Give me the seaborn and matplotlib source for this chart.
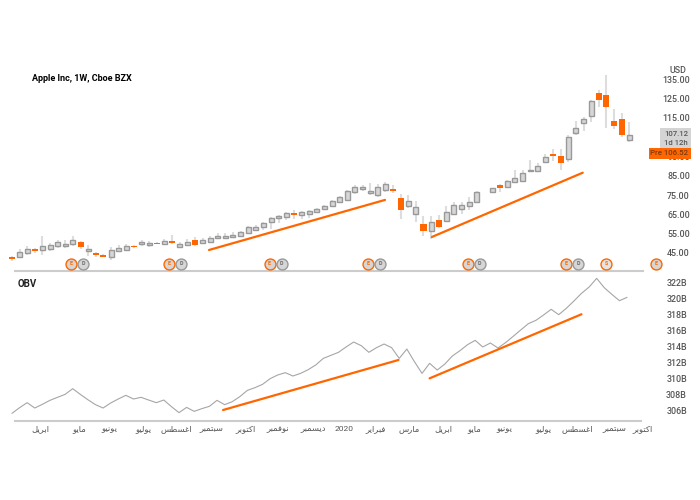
import pandas as pd
import numpy as np
import matplotlib
matplotlib.use("Agg")
import matplotlib.pyplot as plt
from matplotlib.patches import Rectangle
import seaborn as sns

# weekly candles (one week has no candle)
price_open = [42.93, 43.1, 45.2, 46.9, 46.7, 47.25, 48.8, 48.6, 49.85, 50.7, 46.2, 44.8, 44.0, 43.1, 46.2, 46.7, 48.6, 49.85, 49.3, 50.2, 49.85, 51.2, 48.3, 49.3, 51.7, 50.35, 50.9, 52.95, 52.8, 53.45, 53.8, 55.4, 57.1, 58.5, 61.1, 63.3, 63.65, 65.7, 64.85, 65.4, 66.4, 68.0, 69.5, 71.6, 72.5, 76.6, 78.3, 76.1, 75.05, 77.8, 78.15, 73.5, 69.35, 65.4, 60.0, 56.4, 62.1, 61.6, 65.2, 67.6, 69.2, 71.6, np.nan, 76.4, 80.05, 79.0, 82.0, 82.1, 87.3, 87.3, 92.0, 96.3, 95.25, 93.5, 107.35, 112.2, 115.8, 127.9, 126.9, 113.4, 114.4, 103.7]
price_high = [43.45, 46.9, 48.6, 47.4, 53.8, 50.0, 51.7, 51.7, 53.8, 51.2, 49.1, 45.7, 44.5, 48.1, 49.1, 49.7, 49.1, 51.7, 51.2, 50.7, 52.25, 54.3, 50.7, 52.25, 53.3, 52.8, 53.8, 55.4, 55.4, 55.9, 56.4, 59.0, 59.5, 61.1, 63.65, 64.7, 66.2, 67.3, 66.75, 67.3, 68.3, 69.9, 72.5, 74.5, 77.6, 80.2, 80.2, 81.3, 80.75, 81.8, 80.2, 75.6, 75.05, 71.95, 64.2, 64.2, 64.7, 69.35, 71.4, 71.25, 74.0, 77.1, np.nan, 78.85, 80.6, 82.8, 88.0, 88.0, 93.2, 91.6, 96.3, 98.9, 98.9, 106.0, 113.4, 115.5, 124.3, 129.45, 137.2, 119.6, 117.5, 112.9]
price_low = [40.86, 42.6, 44.0, 45.2, 44.0, 46.0, 47.6, 47.6, 48.6, 47.1, 43.45, 42.9, 42.75, 41.4, 46.0, 46.55, 47.75, 48.6, 48.1, 49.5, 49.3, 49.7, 47.75, 48.6, 48.6, 49.7, 50.35, 52.25, 52.25, 52.8, 53.3, 54.85, 56.9, 56.9, 57.4, 60.5, 62.1, 62.6, 62.6, 63.1, 65.7, 67.3, 68.8, 70.9, 71.95, 75.6, 77.1, 75.05, 74.0, 76.6, 76.1, 62.6, 68.3, 61.05, 53.8, 52.25, 58.0, 61.05, 64.7, 65.4, 67.45, 70.7, np.nan, 76.1, 76.8, 78.7, 81.6, 81.8, 87.1, 87.0, 91.6, 92.8, 88.0, 92.3, 106.3, 108.4, 113.0, 120.8, 109.9, 109.4, 105.3, 102.7]
price_close = [42.06, 45.35, 46.9, 46.0, 48.45, 49.0, 50.5, 49.5, 51.6, 48.1, 46.9, 44.0, 42.9, 46.4, 47.4, 48.45, 48.1, 50.5, 50.0, 49.85, 51.2, 50.2, 49.7, 50.7, 49.15, 51.7, 52.6, 53.8, 53.8, 54.3, 55.9, 58.5, 58.5, 60.5, 63.1, 64.2, 65.7, 64.85, 66.2, 66.75, 67.8, 69.35, 71.95, 74.0, 77.1, 79.2, 79.2, 77.1, 79.2, 80.75, 77.1, 67.3, 71.95, 68.8, 56.4, 61.05, 58.5, 66.2, 69.85, 69.9, 71.25, 76.4, np.nan, 78.5, 78.85, 82.1, 83.7, 86.3, 87.8, 89.9, 94.9, 95.4, 91.6, 104.9, 109.6, 114.4, 123.6, 124.3, 120.8, 111.0, 106.3, 106.0]

obv_values = [305.58, 306.29, 306.92, 306.25, 306.71, 307.21, 307.59, 307.96, 308.67, 307.96, 307.29, 306.67, 306.25, 306.88, 307.38, 307.84, 307.38, 307.59, 307.25, 306.92, 307.25, 306.42, 305.67, 306.33, 305.83, 306.17, 306.46, 307.21, 306.67, 307.04, 307.67, 308.46, 308.8, 309.22, 309.93, 310.39, 310.68, 310.26, 310.59, 311.05, 311.64, 312.47, 312.85, 313.23, 313.9, 314.52, 314.06, 313.23, 313.81, 314.27, 313.81, 312.47, 313.64, 312.06, 310.59, 311.85, 311.01, 311.76, 312.77, 313.44, 314.19, 314.73, 313.9, 314.4, 313.77, 314.44, 315.23, 316.03, 316.82, 317.24, 317.9, 318.62, 317.95, 318.74, 319.66, 320.62, 321.41, 322.5, 321.33, 320.49, 319.7, 320.12]

# hand drawn trend lines (week, value)
price_trend_weeks = [[25.85, 48.95], [55.1, 74.9]]
price_trend_values = [[46.55, 72.5], [53.3, 86.6]]
obv_trend_weeks = [[27.8, 50.9], [55.0, 75.0]]
obv_trend_values = [[306.0, 312.27], [309.97, 318.0]]

# earnings / dividend / split badges
event_weeks = [7.74, 9.32, 20.6, 22.2, 33.8, 35.4, 46.7, 48.3, 59.8, 61.4, 72.7, 74.3, 78.0, 84.5]
event_kinds = ["E", "D", "E", "D", "E", "D", "E", "D", "E", "D", "E", "D", "S", "E"]

month_labels = ["ابريل", "مايو", "يونيو", "يوليو", "اغسطس", "سبتمبر", "اكتوبر", "نوفمبر", "ديسمبر", "2020", "فبراير", "مارس", "ابريل", "مايو", "يونيو", "يوليو", "اغسطس", "سبتمبر", "اكتوبر"]
month_weeks = [3.77, 8.8, 12.86, 17.3, 21.6, 26.25, 30.7, 35.0, 39.6, 43.8, 47.9, 52.3, 56.8, 60.9, 64.9, 70.0, 74.5, 79.3, 83.1]
# 105.00 is fully behind the last price boxes in the picture
price_ticks = [45, 55, 65, 75, 85, 95, 115, 125, 135]
obv_ticks = [306, 308, 310, 312, 314, 316, 318, 320, 322]

ORANGE = "#ff6600"
GREY_FILL = "#d6d6d6"
GREY_EDGE = "#999999"
WICK = "#dddddd"
TEXT = "#555555"


# matplotlib does not join arabic letters, so pick the joined forms and flip the order
def arabic(word):
    iso = {"ب": 0xFE8F, "ت": 0xFE95, "س": 0xFEB1, "ط": 0xFEC1, "غ": 0xFECD, "ف": 0xFED1,
           "ك": 0xFED9, "ل": 0xFEDD, "م": 0xFEE1, "ن": 0xFEE5, "ي": 0xFEF1,
           "ا": 0xFE8D, "د": 0xFEA9, "ر": 0xFEAD, "و": 0xFEED}
    no_left = "ادرو"
    out = []
    for i, ch in enumerate(word):
        if ch not in iso:
            return word
        from_right = i > 0 and word[i - 1] not in no_left
        to_left = i < len(word) - 1 and ch not in no_left
        if from_right and to_left:
            out.append(chr(iso[ch] + 3))
        elif from_right:
            out.append(chr(iso[ch] + 1))
        elif to_left:
            out.append(chr(iso[ch] + 2))
        else:
            out.append(chr(iso[ch]))
    return "".join(reversed(out))


sns.set_theme(style="white")
plt.rcParams["font.family"] = ["Roboto", "DejaVu Sans"]

fig = plt.figure(figsize=(7, 5), dpi=100)
fig.patch.set_facecolor("white")


def fx(px):
    return px / 700


def fy(py):
    return 1 - py / 500


ax = fig.add_axes([0, fy(270.5), fx(643), fy(60) - fy(270.5)])
ax2 = fig.add_axes([0, fy(420.7), fx(643), fy(275) - fy(420.7)])

candles = pd.DataFrame({"open": price_open, "high": price_high, "low": price_low, "close": price_close})
candles["week"] = candles.index
candles = candles.dropna()
up = candles[candles["close"] >= candles["open"]]
down = candles[candles["close"] < candles["open"]]

ax.vlines(candles["week"], candles["low"], candles["high"], color=WICK, lw=1.5, zorder=1)
ax.bar(up["week"], up["close"] - up["open"], bottom=up["open"], width=0.66,
       color=GREY_FILL, edgecolor=GREY_EDGE, linewidth=1.0, zorder=2)
ax.bar(down["week"], down["open"] - down["close"], bottom=down["close"], width=0.8,
       color=ORANGE, linewidth=0, zorder=2)

for weeks, values in zip(price_trend_weeks, price_trend_values):
    sns.lineplot(x=weeks, y=values, ax=ax, color=ORANGE, lw=1.6, zorder=3, errorbar=None)

events = pd.DataFrame({"week": event_weeks, "kind": event_kinds})
events["y"] = 39.3
for kind, edge in [("E", ORANGE), ("D", GREY_EDGE), ("S", ORANGE)]:
    part = events[events["kind"] == kind]
    sns.scatterplot(data=part, x="week", y="y", ax=ax, s=62, color=GREY_FILL if kind != "S" else "#e4e4e4",
                    edgecolor=edge, linewidth=1.0, zorder=4, clip_on=False, legend=False)
for week, kind, y in zip(events["week"], events["kind"], events["y"]):
    ax.text(week, y, kind, ha="center", va="center", fontsize=3.8, fontweight="bold",
            color=ORANGE if kind != "D" else "#666666", zorder=5, clip_on=False)

obv = pd.DataFrame({"week": range(len(obv_values)), "obv": obv_values})
sns.lineplot(data=obv, x="week", y="obv", ax=ax2, color="#a6a6a6", lw=0.8, errorbar=None)
for weeks, values in zip(obv_trend_weeks, obv_trend_values):
    sns.lineplot(x=weeks, y=values, ax=ax2, color=ORANGE, lw=1.6, zorder=3, errorbar=None)

for a in (ax, ax2):
    a.set_xlim(-12 / 7.62, 631 / 7.62)
    a.set_xlabel("")
    a.set_ylabel("")
    a.patch.set_alpha(0)
    a.yaxis.tick_right()
    for side in ("top", "left", "right"):
        a.spines[side].set_visible(False)
    a.spines["bottom"].set_color("#cccccc")
    a.spines["bottom"].set_linewidth(1.5)
    a.spines["bottom"].set_bounds(3 / 7.62, 631 / 7.62)

ax.set_ylim(35.93, 145)
ax.set_xticks([])
ax.set_yticks(price_ticks)
ax.set_yticklabels([f"{t:.2f}" for t in price_ticks], ha="right")
ax.tick_params(axis="y", length=0, pad=33.8, labelsize=6.4, labelcolor=TEXT)

ax2.set_ylim(304.66, 322.92)
ax2.set_yticks(obv_ticks)
ax2.set_yticklabels([f"{t}B" for t in obv_ticks], ha="right")
ax2.tick_params(axis="y", length=0, pad=31.7, labelsize=6.4, labelcolor=TEXT)
ax2.set_xticks(month_weeks)
ax2.set_xticklabels([arabic(m) for m in month_labels], va="baseline")
ax2.tick_params(axis="x", length=0, pad=7.2, labelsize=6, labelcolor=TEXT)
for lab in ax.get_yticklabels() + ax2.get_yticklabels():
    lab.set_fontweight("medium")

fig.text(fx(32), fy(78.5), "Apple Inc, 1W, Cboe BZX", fontsize=6.5, fontweight="bold", color="black", va="center")
fig.text(fx(18), fy(283.7), "OBV", fontsize=7, fontweight="bold", color="#222222", va="center")
fig.text(fx(677.5), fy(70.7), "USD", fontsize=6.4, color=TEXT, ha="center", va="center", fontweight="medium")

# last price boxes sit over the axis labels
fig.add_artist(Rectangle((fx(660), fy(148)), fx(31), fy(128) - fy(148), transform=fig.transFigure,
                         facecolor="#d4d4d4", edgecolor="none", zorder=5))
fig.add_artist(Rectangle((fx(649), fy(159)), fx(42), fy(148) - fy(159), transform=fig.transFigure,
                         facecolor=ORANGE, edgecolor="none", zorder=5))
fig.text(fx(688), fy(133.5), "107.12", fontsize=5.6, color=TEXT, ha="right", va="center", zorder=6, fontweight="medium")
fig.text(fx(688), fy(143), "1d 12h", fontsize=5.6, color=TEXT, ha="right", va="center", zorder=6, fontweight="medium")
fig.text(fx(688), fy(153.5), "Pre 106.52", fontsize=5.6, color="#7a3a10", ha="right", va="center", zorder=6, fontweight="medium")

fig.savefig("out.png", dpi=100)
